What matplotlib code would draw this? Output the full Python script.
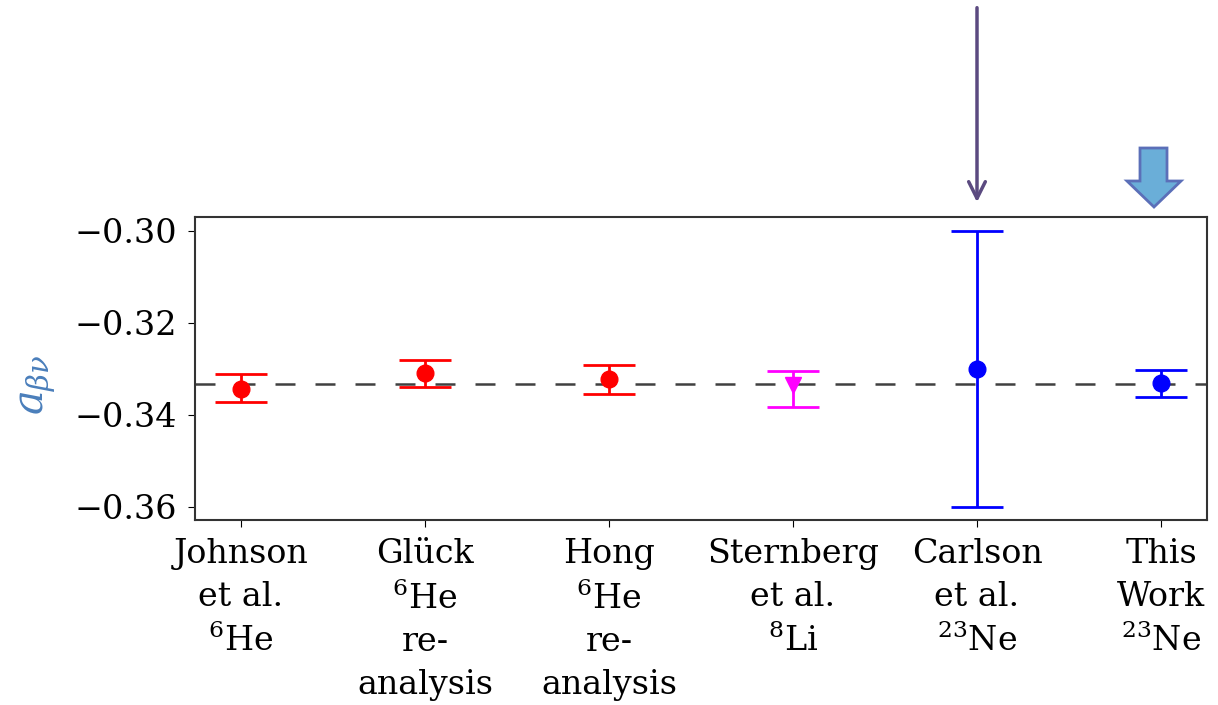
import numpy as np
import matplotlib
matplotlib.use("Agg")
import matplotlib.pyplot as plt
from matplotlib.patches import Polygon
from matplotlib.transforms import IdentityTransform

plt.rcParams['font.family'] = 'DejaVu Serif'
plt.rcParams['mathtext.fontset'] = 'dejavuserif'

labels = ["Johnson\net al.\n$^{6}$He",
          "Glück\n$^{6}$He\nre-\nanalysis",
          "Hong\n$^{6}$He\nre-\nanalysis",
          "Sternberg\net al.\n$^{8}$Li",
          "Carlson\net al.\n$^{23}$Ne",
          "This\nWork\n$^{23}$Ne"]
a_val = [-0.3345, -0.3310, -0.3323, -0.3336, -0.3301, -0.3332]
err_lo = [0.0028, 0.0030, 0.0031, 0.0047, 0.0299, 0.0030]
err_hi = [0.0033, 0.0028, 0.0030, 0.0032, 0.0301, 0.0029]
colors = ['red', 'red', 'red', 'magenta', 'blue', 'blue']
markers = ['o', 'o', 'o', 'v', 'o', 'o']
sm_value = -1.0 / 3.0

fig = plt.figure(figsize=(12.18, 7.05), dpi=100)
ax = fig.add_axes([0.160, 0.262, 0.831, 0.430])

ax.axhline(sm_value, color='k', alpha=0.75, lw=1.8, dashes=(8, 8), zorder=1)

x = np.arange(len(labels))
for i in range(len(labels)):
    ax.errorbar(x[i], a_val[i], yerr=[[err_lo[i]], [err_hi[i]]],
                fmt=markers[i], color=colors[i], ms=12, elinewidth=2,
                capsize=19, capthick=2, zorder=3)

ax.set_xticks(x)
ax.set_xticklabels(labels, fontsize=24, linespacing=1.42)
ax.set_yticks([-0.36, -0.34, -0.32, -0.30])
ax.tick_params(axis='y', labelsize=24, length=5, pad=8)
ax.tick_params(axis='x', length=5, pad=8)
ax.set_xlim(-0.25, 5.25)
ax.set_ylim(-0.363, -0.297)
for s in ax.spines.values():
    s.set_linewidth(1.5)
    s.set_color('#333333')

fig.text(0.030, 0.455, r'$a_{\beta\nu}$', rotation=90, fontsize=30,
         color='#4a7ebb', ha='center', va='center')

# thin arrow pointing at Carlson
ax.annotate('', xy=(4, 1.04), xycoords=('data', 'axes fraction'),
            xytext=(4, 1.70), textcoords=('data', 'axes fraction'),
            arrowprops=dict(arrowstyle='->', color='#5b4a80', lw=2.5,
                            mutation_scale=30), annotation_clip=False)

# block arrow pointing at this work (figure pixels, origin bottom-left)
H = 705
pts = [(1140, H - 148), (1167, H - 148), (1167, H - 181), (1181, H - 181),
       (1154, H - 207), (1127, H - 181), (1140, H - 181)]
fig.patches.append(Polygon(pts, closed=True, transform=IdentityTransform(),
                           facecolor='#6aaed8', edgecolor='#5b6fb8', lw=2,
                           figure=fig))

fig.savefig('out.png', dpi=100)
